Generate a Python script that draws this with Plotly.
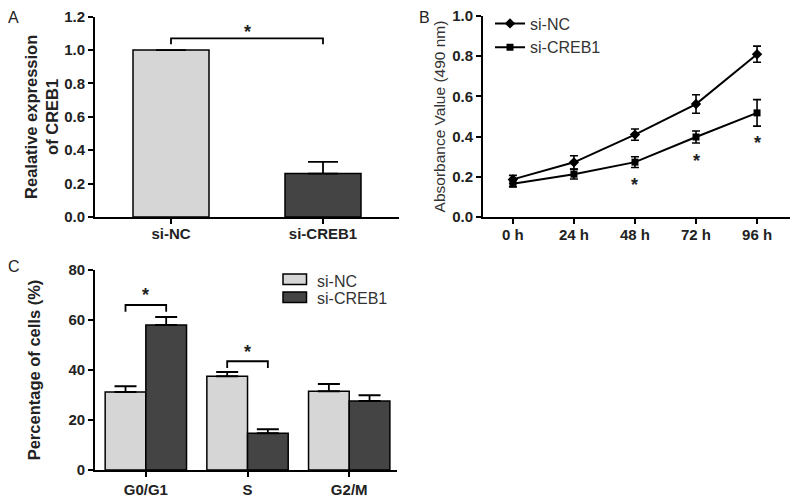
import plotly.graph_objects as go

# ---------------- data ----------------
# Panel A
a_groups = ["si-NC", "si-CREB1"]
a_values = [1.0, 0.26]
a_err = [0.0, 0.07]

# Panel B
b_times = ["0 h", "24 h", "48 h", "72 h", "96 h"]
b_nc = [0.187, 0.272, 0.410, 0.562, 0.810]
b_nc_err = [0.020, 0.033, 0.028, 0.046, 0.040]
b_creb = [0.165, 0.213, 0.273, 0.398, 0.518]
b_creb_err = [0.015, 0.024, 0.027, 0.030, 0.066]
b_star_times = [2, 3, 4]
b_star_y = [0.177, 0.300, 0.387]

# Panel C
c_groups = ["si-NC", "si-CREB1"]
c_phases = ["G0/G1", "S", "G2/M"]
c_nc = [31.2, 37.5, 31.5]
c_nc_err = [2.3, 1.7, 2.9]
c_creb = [58.0, 14.7, 27.6]
c_creb_err = [3.2, 1.6, 2.3]

LIGHT = "#d6d6d6"
DARK = "#444444"
FONT = "Liberation Sans, Arial, sans-serif"
W, H = 800, 501


def px_x(p):
    return p / W


def px_y(p):
    return 1 - p / H


fig = go.Figure()

# ---- Panel A ----
fig.add_trace(go.Bar(
    x=[0, 1], y=a_values, width=0.5,
    marker=dict(color=[LIGHT, DARK], line=dict(color="black", width=1.5)),
    error_y=dict(type="data", array=a_err, arrayminus=[0, 0], symmetric=False,
                 color="black", thickness=1.8, width=15),
    xaxis="x", yaxis="y", showlegend=False))

# ---- Panel B ----
fig.add_trace(go.Scatter(
    x=list(range(len(b_times))), y=b_nc, mode="lines+markers", name="si-NC",
    line=dict(color="black", width=2),
    marker=dict(symbol="diamond", size=8, color="black"),
    error_y=dict(type="data", array=b_nc_err, color="black", thickness=1.6, width=4),
    xaxis="x2", yaxis="y2", legend="legend"))
fig.add_trace(go.Scatter(
    x=list(range(len(b_times))), y=b_creb, mode="lines+markers", name="si-CREB1",
    line=dict(color="black", width=2),
    marker=dict(symbol="square", size=7, color="black"),
    error_y=dict(type="data", array=b_creb_err, color="black", thickness=1.6, width=4),
    xaxis="x2", yaxis="y2", legend="legend"))

# ---- Panel C ----
fig.add_trace(go.Bar(
    x=c_phases, y=c_nc, name=c_groups[0],
    marker=dict(color=LIGHT, line=dict(color="black", width=1.5)),
    error_y=dict(type="data", array=c_nc_err, arrayminus=[0] * 3, symmetric=False,
                 color="black", thickness=1.8, width=11),
    xaxis="x3", yaxis="y3", showlegend=False))
fig.add_trace(go.Bar(
    x=c_phases, y=c_creb, name=c_groups[1],
    marker=dict(color=DARK, line=dict(color="black", width=1.5)),
    error_y=dict(type="data", array=c_creb_err, arrayminus=[0] * 3, symmetric=False,
                 color="black", thickness=1.8, width=11),
    xaxis="x3", yaxis="y3", showlegend=False))

tickfont = dict(family=FONT, size=15, color="#222", weight="bold")
axis_common = dict(showline=True, linecolor="black", linewidth=1.8, ticks="outside",
                   ticklen=5, tickwidth=1.6, tickcolor="black", showgrid=False,
                   zeroline=False, tickfont=tickfont, mirror=False, automargin=False)

fig.update_layout(
    width=W, height=H, margin=dict(l=0, r=0, t=0, b=0, pad=0), autosize=False,
    plot_bgcolor="white", paper_bgcolor="white",
    barmode="group", bargap=0.2, bargroupgap=0.0,
    font=dict(family=FONT, color="#222"),
    xaxis=dict(domain=[px_x(95), px_x(399)], anchor="y", range=[-0.5, 1.5],
               tickvals=[0, 1], ticktext=a_groups, ticklabelstandoff=-3, **axis_common),
    yaxis=dict(domain=[px_y(217), px_y(16.7)], anchor="x", range=[0, 1.2],
               tickvals=[0, 0.2, 0.4, 0.6, 0.8, 1.0, 1.2], tickformat=".1f",
               title=dict(text="Realative expression<br>of CREB1", standoff=1,
                          font=dict(family=FONT, size=16.5, color="#222", weight="bold")),
               **axis_common),
    xaxis2=dict(domain=[px_x(483), px_x(790)], anchor="y2", range=[-0.49, 4.54],
                tickvals=list(range(len(b_times))), ticktext=b_times, ticklabelstandoff=-2,
                **axis_common),
    yaxis2=dict(domain=[px_y(217), px_y(16)], anchor="x2", range=[0, 1.0],
                tickvals=[0, 0.2, 0.4, 0.6, 0.8, 1.0], tickformat=".1f",
                title=dict(text="Absorbance Value (490 nm)", standoff=3,
                           font=dict(family=FONT, size=15.5, color="#333")),
                **axis_common),
    xaxis3=dict(domain=[px_x(95), px_x(397)], anchor="y3", range=[-0.5, 2.47],
                **axis_common),
    yaxis3=dict(domain=[px_y(470), px_y(270)], anchor="x3", range=[0, 80],
                tickvals=[0, 20, 40, 60, 80],
                title=dict(text="Percentage of cells (%)", standoff=24,
                           font=dict(family=FONT, size=16.5, color="#222", weight="bold")),
                **axis_common),
    legend=dict(x=px_x(490), y=px_y(6.5), xanchor="left", yanchor="top",
                bgcolor="rgba(0,0,0,0)", font=dict(family=FONT, size=16, color="#333"),
                tracegroupgap=0, itemwidth=30),
)

# ---- significance brackets ----
shapes = []


def bracket(xref, yref, x0, x1, ytop, ybot):
    shapes.append(dict(type="path", xref=xref, yref=yref,
                       path=f"M {x0},{ybot} L {x0},{ytop} L {x1},{ytop} L {x1},{ybot}",
                       line=dict(color="black", width=1.8)))


bracket("x", "y", 0, 1, 1.07, 1.035)
bracket("x3", "y3", -0.2, 0.2, 66, 63.3)
bracket("x3", "y3", 0.8, 1.2, 43.5, 40.8)

# ---- panel C legend (wide swatches as in the original) ----
legend_font = dict(family=FONT, size=16, color="#333")
anns = []
for (name, col, ybox0, ybox1, ytxt) in [(c_groups[0], LIGHT, 274, 284.5, 281.5),
                                         (c_groups[1], DARK, 292, 302.5, 298)]:
    shapes.append(dict(type="rect", xref="paper", yref="paper",
                       x0=px_x(283), x1=px_x(306.5), y0=px_y(ybox1), y1=px_y(ybox0),
                       fillcolor=col, line=dict(color="black", width=1.5)))
    anns.append(dict(x=px_x(315), y=px_y(ytxt), xref="paper", yref="paper", text=name,
                     showarrow=False, font=legend_font, xanchor="left", yanchor="middle"))
fig.update_layout(shapes=shapes)

star_font = dict(family=FONT, size=18, color="#222", weight="bold")
anns += [
    dict(x=0.5, y=1.13, xref="x", yref="y", text="*", showarrow=False, font=star_font, yshift=-4),
    dict(x=0, y=71.5, xref="x3", yref="y3", text="*", showarrow=False, font=star_font, yshift=-4),
    dict(x=1, y=48.8, xref="x3", yref="y3", text="*", showarrow=False, font=star_font, yshift=-4),
]
for xs, ys in zip(b_star_times, b_star_y):
    anns.append(dict(x=xs, y=ys, xref="x2", yref="y2", text="*", showarrow=False,
                     font=star_font, yshift=-4))

letter_font = dict(family=FONT, size=16, color="#222")
for lbl, lx, ly in [("A", 13, 17.5), ("B", 424, 17.5), ("C", 14, 266)]:
    anns.append(dict(x=px_x(lx), y=px_y(ly), xref="paper", yref="paper", text=lbl,
                     showarrow=False, font=letter_font, xanchor="center", yanchor="middle"))
fig.update_layout(annotations=anns)

fig.write_html(
    "out.html",
    config={"displayModeBar": False},
    post_script="document.body.style.margin='0';document.body.style.overflow='hidden';",
)
